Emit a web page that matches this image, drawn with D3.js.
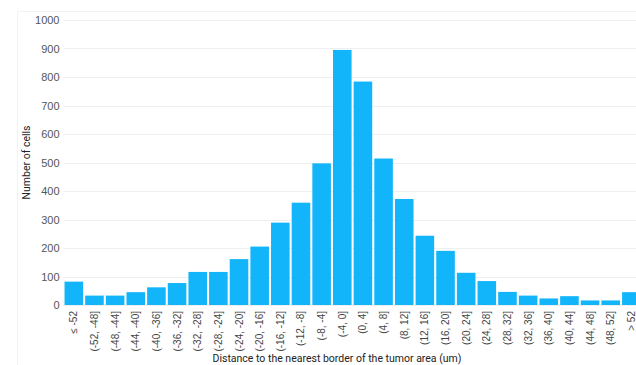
<!DOCTYPE html>
<html>
<head>
<meta charset="utf-8">
<script src="https://cdn.jsdelivr.net/npm/d3@7"></script>
<style>
  body { margin: 0; background: #fff; overflow: hidden; }
  svg { display: block; font-family: Roboto, "Noto Sans", sans-serif; }
</style>
</head>
<body>
<svg id="chart" width="636" height="365"></svg>
<script>
// distance bins (um)
const bins = [
  "≤ -52", "(-52, -48]", "(-48, -44]", "(-44, -40]", "(-40, -36]", "(-36, -32]",
  "(-32, -28]", "(-28, -24]", "(-24, -20]", "(-20, -16]", "(-16, -12]", "(-12, -8]",
  "(-8, -4]", "(-4, 0]", "(0, 4]", "(4, 8]", "(8, 12]", "(12, 16]", "(16, 20]",
  "(20, 24]", "(24, 28]", "(28, 32]", "(32, 36]", "(36, 40]", "(40, 44]",
  "(44, 48]", "(48, 52]", "> 52"
];
const cellCounts = [
  82, 33, 33, 45, 62, 77, 116, 116, 161, 205, 289, 359, 497, 895, 784, 514,
  372, 243, 190, 113, 84, 46, 33, 23, 31, 16, 16, 45
];
const yTicks = [0, 100, 200, 300, 400, 500, 600, 700, 800, 900, 1000];

const svg = d3.select("#chart");
const margin = { top: 20, left: 63.5, bottom: 305 };
const plotRight = 641.7;

// faint card border
svg.append("rect")
  .attr("x", 17.5).attr("y", 11.5)
  .attr("width", 640).attr("height", 400)
  .attr("fill", "none")
  .attr("stroke", "#f2f2f2");

const x = d3.scaleBand()
  .domain(bins)
  .range([margin.left, plotRight])
  .paddingInner(0.1)
  .paddingOuter(0.05);

const y = d3.scaleLinear()
  .domain([0, 1000])
  .range([margin.bottom, margin.top]);

// gridlines
svg.append("g")
  .selectAll("line")
  .data(yTicks)
  .join("line")
  .attr("x1", margin.left)
  .attr("x2", plotRight)
  .attr("y1", d => Math.round(y(d)) + 0.5)
  .attr("y2", d => Math.round(y(d)) + 0.5)
  .attr("stroke", "#efefef");

// y axis
const yAxis = svg.append("g")
  .attr("transform", `translate(${margin.left},0)`)
  .call(d3.axisLeft(y).tickValues(yTicks).tickFormat(d3.format("d")).tickSize(0).tickPadding(4));
yAxis.select(".domain").remove();
yAxis.selectAll("text")
  .attr("fill", "#555")
  .attr("font-size", 11);

// bars
svg.append("g")
  .selectAll("rect")
  .data(cellCounts)
  .join("rect")
  .attr("x", (d, i) => x(bins[i]))
  .attr("width", x.bandwidth())
  .attr("y", d => y(d))
  .attr("height", d => y(0) - y(d))
  .attr("fill", "#13b5fa");

// x axis
const xAxis = svg.append("g")
  .attr("transform", `translate(0,${margin.bottom})`)
  .call(d3.axisBottom(x).tickSize(0).tickPadding(0));
xAxis.select(".domain").remove();
xAxis.selectAll("text")
  .attr("transform", "rotate(-90)")
  .attr("text-anchor", "end")
  .attr("dx", "-6")
  .attr("dy", "0.35em")
  .attr("x", 0)
  .attr("y", 0)
  .attr("fill", "#444")
  .attr("font-size", 10);

// axis titles
svg.append("text")
  .attr("transform", `translate(30,${(margin.top + margin.bottom) / 2}) rotate(-90)`)
  .attr("text-anchor", "middle")
  .attr("font-size", 10.5)
  .attr("fill", "#222")
  .text("Number of cells");

svg.append("text")
  .attr("x", 337)
  .attr("y", 362)
  .attr("text-anchor", "middle")
  .attr("font-size", 10.5)
  .attr("fill", "#222")
  .text("Distance to the nearest border of the tumor area (um)");
</script>
</body>
</html>
